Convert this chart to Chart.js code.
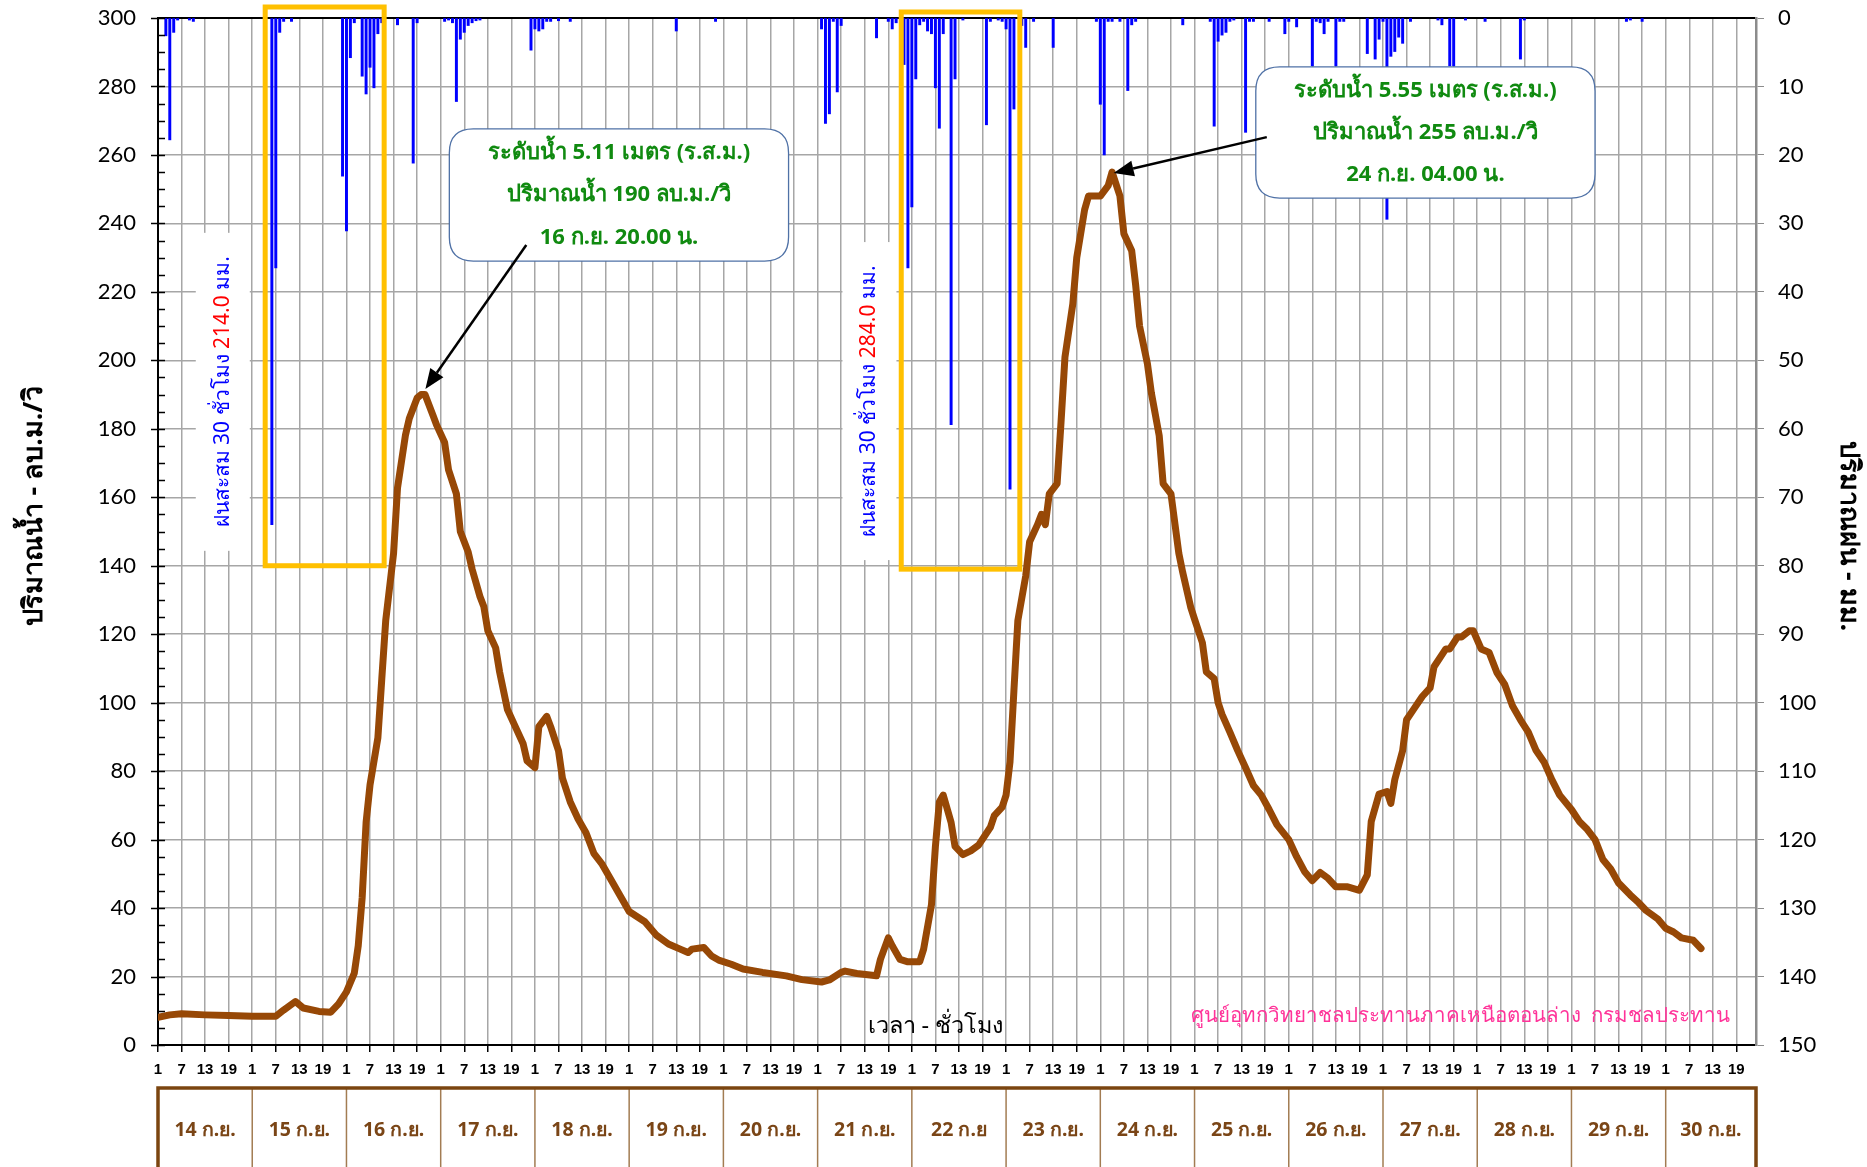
<!DOCTYPE html>
<html>
<head>
<meta charset="utf-8">
<script src="https://cdn.jsdelivr.net/npm/chart.js@4.4.0/dist/chart.umd.min.js"></script>
<style>
html, body { margin: 0; padding: 0; background: #fff; }
</style>
</head>
<body>
<canvas id="graficoVazao" width="1867" height="1167"></canvas>
<script>
var ctxVazao = document.getElementById('graficoVazao').getContext('2d');

// dias (cada dia = 24 horas no eixo x, hora 0 = 14 ก.ย. 01.00)
var dayLabels = ['14 ก.ย.', '15 ก.ย.', '16 ก.ย.', '17 ก.ย.', '18 ก.ย.', '19 ก.ย.', '20 ก.ย.', '21 ก.ย.', '22 ก.ย',
    '23 ก.ย.', '24 ก.ย.', '25 ก.ย.', '26 ก.ย.', '27 ก.ย.', '28 ก.ย.', '29 ก.ย.', '30 ก.ย.'];

// vazao (ลบ.ม./วิ)
var flowHours = [0, 3, 6, 12, 18, 24, 30, 32, 35, 37, 41, 44, 46, 48, 50, 51, 52, 53, 54, 56, 57, 58, 60, 61, 63, 64,
    66, 67, 68, 70, 71, 73, 74, 76, 77, 79, 80, 82, 83, 84, 86, 87, 89, 91, 93, 94, 96, 97, 99, 100, 102, 103, 105,
    107, 109, 111, 113, 116, 118, 120, 124, 127, 130, 133, 135, 136, 139, 141, 143, 146, 149, 154, 160, 164, 169,
    171, 174, 175, 178, 183, 184, 186, 187, 189, 191, 194, 195, 197, 198, 199, 200, 202, 203, 205, 207, 209, 212,
    213, 215, 216, 217, 218, 219, 221, 222, 224, 225, 226, 227, 229, 230, 231, 233, 234, 236, 237, 240, 242, 243,
    245, 246, 248, 249, 250, 252, 253, 255, 256, 258, 260, 261, 263, 264, 266, 267, 269, 270, 271, 273, 275, 277,
    279, 281, 283, 285, 288, 290, 292, 294, 296, 298, 300, 303, 306, 308, 309, 311, 313, 314, 315, 317, 318, 320,
    322, 324, 325, 328, 329, 331, 332, 334, 335, 337, 339, 341, 343, 345, 347, 349, 351, 353, 355, 357, 360, 362,
    364, 366, 368, 370, 372, 375, 377, 379, 382, 384, 386, 388, 391, 393];
var flowValues = [8.1, 8.8, 9.1, 8.8, 8.6, 8.4, 8.4, 10.2, 12.7, 10.8, 9.8, 9.6, 12, 15.5, 21, 29, 43, 65, 76, 89.7,
    107, 124, 143.6, 162.7, 178, 183, 189, 190, 190, 184, 181, 176, 168, 161, 150, 144, 139, 131, 128, 121, 116, 109,
    98, 93, 88, 83, 81, 93, 96, 93, 86, 78, 71, 66, 62, 56, 53, 47, 43, 39, 36, 32, 29.5, 28, 27, 28, 28.5, 26, 24.7,
    23.6, 22.2, 21.2, 20.2, 19.1, 18.4, 19, 21.2, 21.6, 20.9, 20.2, 25, 31.3, 29, 25, 24.3, 24.3, 28, 41, 58, 71, 73,
    65, 58, 55.6, 56.7, 58.4, 63.6, 67, 69.5, 73, 82.7, 103.6, 124, 137, 147, 152, 155, 152, 161, 164, 182, 201,
    216.5, 230, 244, 248, 248, 251, 255, 248, 237, 232, 222, 210, 199, 190.5, 178, 164, 161, 143.6, 138, 128, 124.4,
    117.5, 109, 107, 100, 96.6, 91.4, 86, 81, 75.8, 73, 68.8, 64.3, 60, 55, 50.7, 48, 50.4, 48.7, 46.2, 46.2, 45.2,
    49.7, 65.3, 73.3, 74, 70.6, 77.5, 86, 95, 98.4, 101.8, 104.3, 110.5, 115.7, 115.7, 119.2, 119.2, 121, 121, 115.7,
    114.7, 108.8, 105.3, 99, 95, 91.4, 86, 82.7, 77.5, 73, 68.8, 65.3, 63, 60, 54.2, 51.4, 47.3, 43.8, 41.7, 39.3,
    36.8, 34.1, 33, 31.3, 30.6, 28.2];

// chuva (มม.) por hora
var rainHours = [2, 3, 4, 5, 8, 9, 29, 30, 31, 32, 34, 47, 48, 49, 50, 52, 53, 54, 55, 56, 57, 61, 65, 66, 73, 74, 75,
    76, 77, 78, 79, 80, 81, 82, 95, 96, 97, 98, 99, 100, 102, 105, 132, 142, 169, 170, 171, 172, 173, 174, 183, 186,
    187, 188, 190, 191, 192, 193, 194, 195, 196, 197, 198, 199, 200, 202, 203, 205, 211, 212, 214, 215, 216, 217, 218,
    220, 221, 223, 228, 239, 240, 241, 242, 243, 245, 247, 248, 249, 261, 268, 269, 270, 271, 272, 273, 274, 277, 278,
    279, 283, 287, 288, 290, 294, 295, 296, 297, 298, 300, 301, 302, 308, 310, 311, 312, 313, 314, 315, 316, 317, 319,
    326, 327, 329, 330, 333, 338, 347, 348, 374, 375, 378];
var rainValues = [2.6, 17.8, 2.1, 0.3, 0.3, 0.5, 74.0, 36.5, 2.1, 0.5, 0.5, 23.1, 31.1, 5.8, 0.7, 8.5, 11.1, 7.2, 10.2,
    2.3, 0.7, 1.0, 21.2, 0.7, 0.5, 0.3, 0.7, 12.2, 3.1, 2.1, 1.1, 0.7, 0.4, 0.3, 4.7, 1.6, 1.9, 1.6, 0.5, 0.5, 0.4, 0.5,
    1.9, 0.5, 1.6, 15.4, 14.0, 0.5, 10.8, 1.1, 2.9, 0.5, 1.6, 0.7, 6.8, 36.5, 27.6, 8.9, 1.0, 0.5, 1.9, 2.3, 10.2,
    16.1, 2.3, 59.4, 8.9, 0.3, 15.6, 0.5, 0.3, 0.5, 1.6, 68.8, 13.3, 1.1, 4.3, 0.5, 4.3, 0.5, 12.6, 20.0, 0.5, 0.5,
    0.5, 10.6, 1.0, 0.5, 1.0, 0.5, 15.8, 3.4, 2.5, 2.1, 0.5, 0.3, 16.7, 0.5, 0.5, 0.5, 2.3, 0.5, 1.3, 7.0, 0.5, 0.7,
    2.3, 0.5, 7.0, 0.5, 0.5, 5.2, 6.0, 3.1, 0.5, 29.4, 5.6, 4.9, 2.8, 3.7, 0.5, 0.3, 1.0, 7.0, 7.0, 0.3, 0.5, 6.0, 0.3,
    0.5, 0.3, 0.5];

var FONT_TH = "Tahoma, 'Noto Sans', 'DejaVu Sans', sans-serif";
var FONT_NUM = "Lato, 'Noto Sans', sans-serif";

var dataVazao = {
    datasets: [{
        type: 'line',
        label: 'ปริมาณน้ำ',
        data: flowHours.map(function (h, i) { return { x: h, y: flowValues[i] }; }),
        borderColor: '#974806',
        borderWidth: 7,
        pointRadius: 0,
        tension: 0,
        borderJoinStyle: 'round',
        borderCapStyle: 'round',
        yAxisID: 'y',
        order: 0
    }, {
        type: 'bar',
        label: 'ปริมาณฝน',
        data: rainHours.map(function (h, i) { return { x: h, y: rainValues[i] }; }),
        backgroundColor: '#0000ff',
        barThickness: 2.3,
        yAxisID: 'y1',
        order: 1
    }]
};

function rotText(ctx, parts, cx, cy, angle, font) {
    ctx.save();
    ctx.translate(cx, cy);
    ctx.rotate(angle);
    ctx.font = font;
    ctx.textBaseline = 'middle';
    ctx.textAlign = 'left';
    var total = 0;
    parts.forEach(function (p) { total += ctx.measureText(p[0]).width; });
    var x = -total / 2;
    parts.forEach(function (p) {
        ctx.fillStyle = p[1];
        ctx.fillText(p[0], x, 0);
        x += ctx.measureText(p[0]).width;
    });
    ctx.restore();
}

function roundBox(ctx, x1, y1, x2, y2, r) {
    ctx.beginPath();
    ctx.moveTo(x1 + r, y1);
    ctx.lineTo(x2 - r, y1);
    ctx.quadraticCurveTo(x2, y1, x2, y1 + r);
    ctx.lineTo(x2, y2 - r);
    ctx.quadraticCurveTo(x2, y2, x2 - r, y2);
    ctx.lineTo(x1 + r, y2);
    ctx.quadraticCurveTo(x1, y2, x1, y2 - r);
    ctx.lineTo(x1, y1 + r);
    ctx.quadraticCurveTo(x1, y1, x1 + r, y1);
    ctx.closePath();
}

function arrow(ctx, x1, y1, x2, y2) {
    var ang = Math.atan2(y2 - y1, x2 - x1);
    var len = 20, w = 8;
    var bx = x2 - len * Math.cos(ang), by = y2 - len * Math.sin(ang);
    ctx.save();
    ctx.strokeStyle = '#000';
    ctx.fillStyle = '#000';
    ctx.lineWidth = 2.5;
    ctx.beginPath();
    ctx.moveTo(x1, y1);
    ctx.lineTo(bx, by);
    ctx.stroke();
    ctx.beginPath();
    ctx.moveTo(x2, y2);
    ctx.lineTo(bx + w * Math.sin(ang), by - w * Math.cos(ang));
    ctx.lineTo(bx - w * Math.sin(ang), by + w * Math.cos(ang));
    ctx.closePath();
    ctx.fill();
    ctx.restore();
}

function callout(ctx, sx, sy, box, lines) {
    var x1 = sx.getPixelForValue(box[0]), x2 = sx.getPixelForValue(box[1]);
    var y1 = sy.getPixelForValue(box[2]), y2 = sy.getPixelForValue(box[3]);
    ctx.save();
    roundBox(ctx, x1, y1, x2, y2, 24);
    ctx.fillStyle = '#fff';
    ctx.fill();
    ctx.strokeStyle = '#4f71a6';
    ctx.lineWidth = 1.3;
    ctx.stroke();
    ctx.fillStyle = '#108a10';
    ctx.font = 'bold 22px ' + FONT_TH;
    ctx.textAlign = 'center';
    ctx.textBaseline = 'middle';
    var cx = (x1 + x2) / 2, h = (y2 - y1);
    lines.forEach(function (t, i) {
        ctx.fillText(t, cx, y1 + h * (0.18 + 0.32 * i));
    });
    ctx.restore();
}

// sem folga extra acima/abaixo dos eixos verticais
function fixVertical(width) {
    return function (s) {
        s.width = width;
        s.paddingTop = 0;
        s.paddingBottom = 0;
    };
}

// desenhos extras: caixas, textos, tabela de datas
var decoracoes = {
    id: 'decoracoes',
    beforeDatasetsDraw: function (chart) {
        var ctx = chart.ctx, sx = chart.scales.x, sy = chart.scales.y;
        ctx.save();
        ctx.fillStyle = '#fff';
        [[16.5, 190.8], [181.2, 188.1]].forEach(function (p) {
            var cx = sx.getPixelForValue(p[0]), cy = sy.getPixelForValue(p[1]);
            ctx.fillRect(cx - 27, cy - 159, 54, 318);
        });
        ctx.restore();
    },
    afterDatasetsDraw: function (chart) {
        var ctx = chart.ctx, sx = chart.scales.x, sy = chart.scales.y;

        // textos verticais de chuva acumulada
        rotText(ctx, [['ฝนสะสม 30 ชั่วโมง ', '#0000ff'], ['214.0', '#ff0000'], [' มม.', '#0000ff']],
            sx.getPixelForValue(16.5), sy.getPixelForValue(190.8), -Math.PI / 2, '21px ' + FONT_TH);
        rotText(ctx, [['ฝนสะสม 30 ชั่วโมง ', '#0000ff'], ['284.0', '#ff0000'], [' มม.', '#0000ff']],
            sx.getPixelForValue(181.2), sy.getPixelForValue(188.1), -Math.PI / 2, '21px ' + FONT_TH);

        // caixas laranja (30 horas)
        ctx.save();
        ctx.strokeStyle = '#ffc000';
        ctx.lineWidth = 5;
        [[27.3, 57.6, 140, 7], [189.3, 219.5, 139, 12]].forEach(function (b) {
            var x1 = sx.getPixelForValue(b[0]), x2 = sx.getPixelForValue(b[1]);
            var y2 = sy.getPixelForValue(b[2]);
            ctx.strokeRect(x1, b[3], x2 - x1, y2 - b[3]);
        });
        ctx.restore();

        callout(ctx, sx, sy, [74.2, 160.6, 267.6, 229],
            ['ระดับน้ำ 5.11 เมตร (ร.ส.ม.)', 'ปริมาณน้ำ 190 ลบ.ม./วิ', '16 ก.ย. 20.00 น.']);
        callout(ctx, sx, sy, [279.6, 366, 285.7, 247.4],
            ['ระดับน้ำ 5.55 เมตร (ร.ส.ม.)', 'ปริมาณน้ำ 255 ลบ.ม./วิ', '24 ก.ย. 04.00 น.']);
        arrow(ctx, sx.getPixelForValue(93.8), sy.getPixelForValue(233.7), sx.getPixelForValue(68.1), sy.getPixelForValue(191.6));
        arrow(ctx, sx.getPixelForValue(282.4), sy.getPixelForValue(265.2), sx.getPixelForValue(243.4), sy.getPixelForValue(254.7));

        ctx.save();
        ctx.textBaseline = 'middle';
        ctx.fillStyle = '#ff3399';
        ctx.font = '20.5px ' + FONT_TH;
        ctx.textAlign = 'right';
        ctx.fillText('ศูนย์อุทกวิทยาชลประทานภาคเหนือตอนล่าง  กรมชลประทาน', sx.getPixelForValue(400.5), sy.getPixelForValue(8.5));
        ctx.fillStyle = '#000';
        ctx.font = '23.5px ' + FONT_TH;
        ctx.textAlign = 'center';
        ctx.fillText('เวลา - ชั่วโมง', sx.getPixelForValue(198), sy.getPixelForValue(5.5));
        ctx.restore();
    },
    afterDraw: function (chart) {
        var ctx = chart.ctx, sx = chart.scales.x, sy = chart.scales.y;
        var area = chart.chartArea;
        ctx.save();

        // ticks menores do eixo esquerdo
        ctx.strokeStyle = '#000';
        ctx.lineWidth = 1.5;
        for (var v = 0; v <= 300; v += 5) {
            var py = Math.round(sy.getPixelForValue(v)) + 0.5;
            ctx.beginPath();
            ctx.moveTo(area.left - (v % 20 === 0 ? 7 : 0), py);
            ctx.lineTo(area.left + 7, py);
            ctx.stroke();
        }

        // tabela de datas
        var top = area.bottom + 43, bottom = chart.height + 4;
        var xl = sx.getPixelForValue(0), xr = sx.getPixelForValue(407);
        ctx.strokeStyle = '#a27c52';
        ctx.lineWidth = 1.5;
        for (var d = 1; d < dayLabels.length; d++) {
            var px = sx.getPixelForValue(d * 24);
            ctx.beginPath();
            ctx.moveTo(px, top);
            ctx.lineTo(px, bottom);
            ctx.stroke();
        }
        ctx.strokeStyle = '#7b4510';
        ctx.lineWidth = 3.5;
        ctx.strokeRect(xl, top, xr - xl, bottom - top);
        ctx.fillStyle = '#7a4516';
        ctx.font = 'bold 19.5px ' + FONT_TH;
        ctx.textAlign = 'center';
        ctx.textBaseline = 'middle';
        dayLabels.forEach(function (lab, i) {
            var a = sx.getPixelForValue(i * 24), b = Math.min(sx.getPixelForValue(i * 24 + 24), xr);
            ctx.fillText(lab, (a + b) / 2, area.bottom + 85);
        });
        ctx.restore();

        // titulos dos eixos
        rotText(ctx, [['ปริมาณน้ำ - ลบ.ม./วิ', '#000']], 34, 506, -Math.PI / 2, 'bold 27px ' + FONT_TH);
        rotText(ctx, [['ปริมาณฝน - มม.', '#000']], 1849, 536, Math.PI / 2, 'bold 27px ' + FONT_TH);
    }
};

var optionsVazao = {
    responsive: false,
    animation: false,
    layout: { padding: { top: 18, left: 0, right: 0, bottom: 0 } },
    scales: {
        x: {
            type: 'linear',
            min: 0,
            max: 407,
            offset: false,
            border: { color: '#000', width: 2 },
            grid: { color: '#a6a6a6', lineWidth: 1.5, offset: false, tickLength: 7, tickColor: '#000' },
            ticks: {
                stepSize: 6,
                includeBounds: false,
                autoSkip: false,
                maxRotation: 0,
                padding: 9,
                color: '#000',
                font: { family: "'Liberation Sans', Arial, sans-serif", size: 15, weight: 'bold' },
                callback: function (value) { return (value % 24) + 1; }
            },
            afterFit: function (s) { s.height = 122; s.paddingLeft = 0; s.paddingRight = 0; }
        },
        y: {
            position: 'left',
            min: 0,
            max: 300,
            border: { color: '#000', width: 2 },
            grid: {
                color: function (c) { return c.tick.value === 300 ? '#000' : '#a6a6a6'; },
                lineWidth: function (c) { return c.tick.value === 300 ? 2 : 1.5; },
                drawTicks: false
            },
            ticks: { stepSize: 20, padding: 22, color: '#000', font: { family: FONT_NUM, size: 22 } },
            afterFit: fixVertical(158)
        },
        y1: {
            position: 'right',
            min: 0,
            max: 150,
            reverse: true,
            border: { color: '#8c8c8c', width: 2.5 },
            grid: { drawOnChartArea: false, tickLength: 8, tickColor: '#8c8c8c' },
            ticks: { stepSize: 10, padding: 14, color: '#000', font: { family: FONT_NUM, size: 22 } },
            afterFit: fixVertical(111)
        }
    },
    plugins: {
        legend: { display: false },
        tooltip: { enabled: false }
    }
};

var vazaoChart = new Chart(ctxVazao, {
    type: 'line',
    data: dataVazao,
    options: optionsVazao,
    plugins: [decoracoes]
});
</script>
</body>
</html>
